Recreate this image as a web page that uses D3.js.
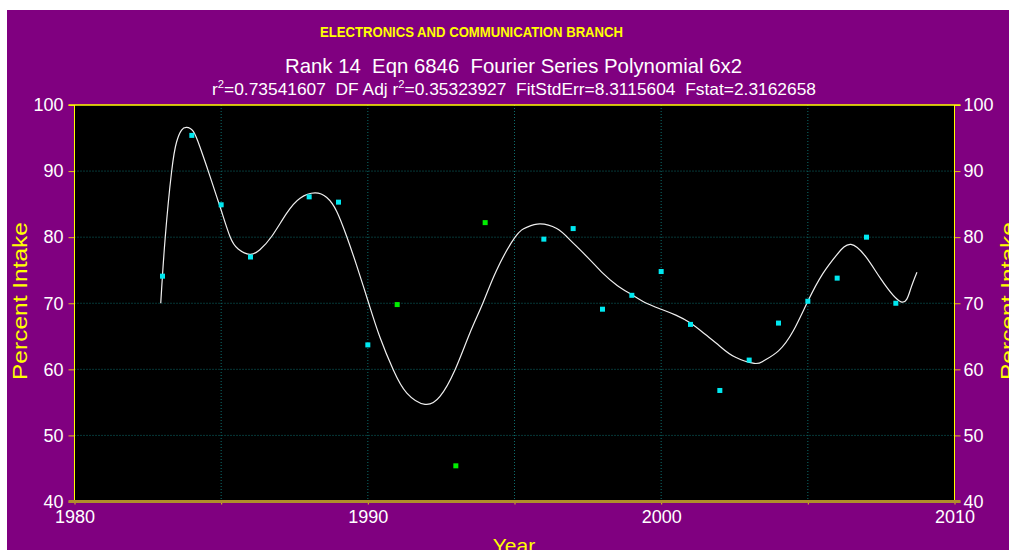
<!DOCTYPE html>
<html lang="en">
<head>
<meta charset="utf-8">
<title>Fourier Series Polynomial 6x2</title>
<script src="https://cdn.jsdelivr.net/npm/d3@7/dist/d3.min.js"></script>
<style>
  body { margin: 0; background: #fff; }
  text { font-family: "Liberation Sans Narrow", "Liberation Sans", Arial, sans-serif; white-space: pre; }
</style>
</head>
<body>
<script>
/* measured points */
var years  = [1983, 1984, 1985, 1986, 1988, 1989, 1990, 1991, 1993, 1994, 1996, 1997,
              1998, 1999, 2000, 2001, 2002, 2003, 2004, 2005, 2006, 2007, 2008];
var intake = [74.1, 95.4, 84.9, 77.0, 86.1, 85.3, 63.7, 69.8, 45.4, 82.2, 79.7, 81.3,
              69.1, 71.2, 74.8, 66.8, 56.8, 61.4, 67.0, 70.3, 73.8, 80.0, 70.0];
var greenYears = [1991, 1993, 1994];

/* fitted curve */
var fitYears = [1982.94, 1983.09, 1983.31, 1983.48, 1983.65, 1983.82, 1984.05, 1984.28, 1984.56, 1984.85,
                1985.02, 1985.3, 1985.58, 1985.98, 1986.32, 1986.72, 1987.23, 1987.69, 1988.2, 1988.6,
                1988.94, 1989.28, 1989.62, 1990.03, 1990.41, 1990.87, 1991.33, 1991.95, 1992.46, 1992.97,
                1993.48, 1993.92, 1994.39, 1995.02, 1995.42, 1995.87, 1996.44, 1996.89, 1997.5, 1998.0,
                1998.5, 1999.0, 1999.5, 2000.0, 2000.5, 2001.0, 2001.5, 2002.0, 2002.5, 2003.17,
                2003.5, 2004.0, 2004.5, 2005.0, 2005.5, 2006.0, 2006.47, 2007.0, 2007.5, 2008.18,
                2008.5, 2008.72];
var fitValues = [70.0, 79.8, 89.9, 94.4, 96.2, 96.6, 96.0, 93.6, 90.0, 86.1,
                 83.8, 80.1, 78.2, 77.4, 78.1, 80.1, 83.6, 85.9, 86.7, 86.0,
                 83.9, 80.1, 75.7, 70.0, 64.9, 59.9, 56.4, 54.7, 55.9, 59.9,
                 65.5, 70.0, 75.0, 80.0, 81.5, 82.0, 81.3, 79.6, 76.9, 74.6,
                 72.7, 71.3, 70.0, 69.1, 68.2, 67.0, 65.3, 63.5, 61.9, 60.9,
                 61.3, 62.8, 65.8, 70.3, 74.4, 77.4, 78.9, 76.9, 73.6, 70.2,
                 72.1, 74.7];

var xTicks = [1980, 1990, 2000, 2010];
var xGrid = [1985, 1990, 1995, 2000, 2005];
var yTicks = [40, 50, 60, 70, 80, 90, 100];

var W = 1009, H = 550;
var pl = 74.5, pr = 954.5, pt = 105, pb = 501.5;

var svg = d3.select("body").append("svg")
  .attr("width", W).attr("height", H);

/* purple frame */
svg.append("rect").attr("x", 7).attr("y", 10)
  .attr("width", W - 7).attr("height", H - 10).attr("fill", "#800080");

var x = d3.scaleLinear().domain([1980, 2010]).range([pl, pr]);
var y = d3.scaleLinear().domain([40, 100]).range([pb, pt]);

/* plot area */
svg.append("rect").attr("x", pl).attr("y", pt)
  .attr("width", pr - pl).attr("height", pb - pt).attr("fill", "#000");

/* grid */
svg.append("g").selectAll("line").data(xGrid).enter().append("line")
  .attr("x1", d => x(d)).attr("x2", d => x(d))
  .attr("y1", pt).attr("y2", pb)
  .attr("stroke", "#0d6e6e").attr("stroke-dasharray", "1,2");
svg.append("g").selectAll("line").data(yTicks.slice(1, -1)).enter().append("line")
  .attr("x1", pl).attr("x2", pr)
  .attr("y1", d => y(d)).attr("y2", d => y(d))
  .attr("stroke", "#0d6e6e").attr("stroke-dasharray", "1,2");

/* axes */
function styleAxis(g) {
  g.select(".domain").remove();
  g.selectAll(".tick line").attr("stroke", "#e2bd1c");
  g.selectAll(".tick text").attr("fill", "#fff")
    .style("font-size", "18px");
}
svg.append("g").attr("transform", "translate(" + pl + ",0)")
  .call(d3.axisLeft(y).tickValues(yTicks).tickSize(6).tickPadding(5))
  .call(styleAxis);
svg.append("g").attr("transform", "translate(" + pr + ",0)")
  .call(d3.axisRight(y).tickValues(yTicks).tickSize(6).tickPadding(3))
  .call(styleAxis);
svg.append("g").attr("transform", "translate(0," + pb + ")")
  .call(d3.axisBottom(x).tickValues(xGrid.concat([1980, 2010])).tickSize(3)
        .tickFormat(d => xTicks.indexOf(d) >= 0 ? d : ""))
  .call(styleAxis)
  .selectAll(".tick text").attr("y", 9);

/* frame lines */
svg.append("line").attr("x1", pl).attr("x2", pl).attr("y1", pt).attr("y2", pb)
  .attr("stroke", "#ffff00");
svg.append("line").attr("x1", pr).attr("x2", pr).attr("y1", pt).attr("y2", pb)
  .attr("stroke", "#ffff00");
svg.append("line").attr("x1", pl - 6).attr("x2", pr + 6).attr("y1", pt).attr("y2", pt)
  .attr("stroke", "#ffff00").attr("stroke-width", 1.5);
svg.append("line").attr("x1", pl - 6).attr("x2", pr + 6).attr("y1", pb).attr("y2", pb)
  .attr("stroke", "#b08d2a").attr("stroke-width", 3);

/* fitted curve */
var fit = fitYears.map((d, i) => [d, fitValues[i]]);
svg.append("path").datum(fit)
  .attr("fill", "none").attr("stroke", "#f0f0f0").attr("stroke-width", 1.2)
  .attr("d", d3.line().x(d => x(d[0])).y(d => y(d[1])).curve(d3.curveNatural));

/* data points */
svg.append("g").selectAll("rect").data(years).enter().append("rect")
  .attr("x", d => x(d) - 2.5)
  .attr("y", (d, i) => y(intake[i]) - 2.5)
  .attr("width", 5).attr("height", 5)
  .attr("fill", d => greenYears.indexOf(d) >= 0 ? "#00ee00" : "#00e8f0");

/* titles */
svg.append("text").attr("x", 471.5).attr("y", 37).attr("text-anchor", "middle")
  .attr("fill", "#ffff00").style("font-size", "14px").style("font-weight", "bold")
  .attr("textLength", 303).attr("lengthAdjust", "spacingAndGlyphs")
  .text("ELECTRONICS AND COMMUNICATION BRANCH");

svg.append("text").attr("x", 513.5).attr("y", 73).attr("text-anchor", "middle")
  .attr("fill", "#fff").style("font-size", "21px")
  .attr("textLength", 457).attr("lengthAdjust", "spacingAndGlyphs")
  .text("Rank 14  Eqn 6846  Fourier Series Polynomial 6x2");

var stats = svg.append("text").attr("x", 514).attr("y", 95).attr("text-anchor", "middle")
  .attr("fill", "#fff").style("font-size", "17px")
  .attr("textLength", 604).attr("lengthAdjust", "spacingAndGlyphs");
stats.append("tspan").text("r");
stats.append("tspan").attr("dy", -7).style("font-size", "11px").text("2");
stats.append("tspan").attr("dy", 7).text("=0.73541607  DF Adj r");
stats.append("tspan").attr("dy", -7).style("font-size", "11px").text("2");
stats.append("tspan").attr("dy", 7).text("=0.35323927  FitStdErr=8.3115604  Fstat=2.3162658");

/* axis titles */
svg.append("text").attr("x", 514).attr("y", 553).attr("text-anchor", "middle")
  .attr("fill", "#ffff00").style("font-size", "21px").text("Year");
svg.append("text").attr("transform", "translate(27,301) rotate(-90)")
  .attr("text-anchor", "middle").attr("fill", "#ffff00").style("font-size", "21px")
  .attr("textLength", 158).attr("lengthAdjust", "spacingAndGlyphs")
  .text("Percent Intake");
svg.append("text").attr("transform", "translate(1015,301) rotate(-90)")
  .attr("text-anchor", "middle").attr("fill", "#ffff00").style("font-size", "21px")
  .attr("textLength", 158).attr("lengthAdjust", "spacingAndGlyphs")
  .text("Percent Intake");
</script>
</body>
</html>
